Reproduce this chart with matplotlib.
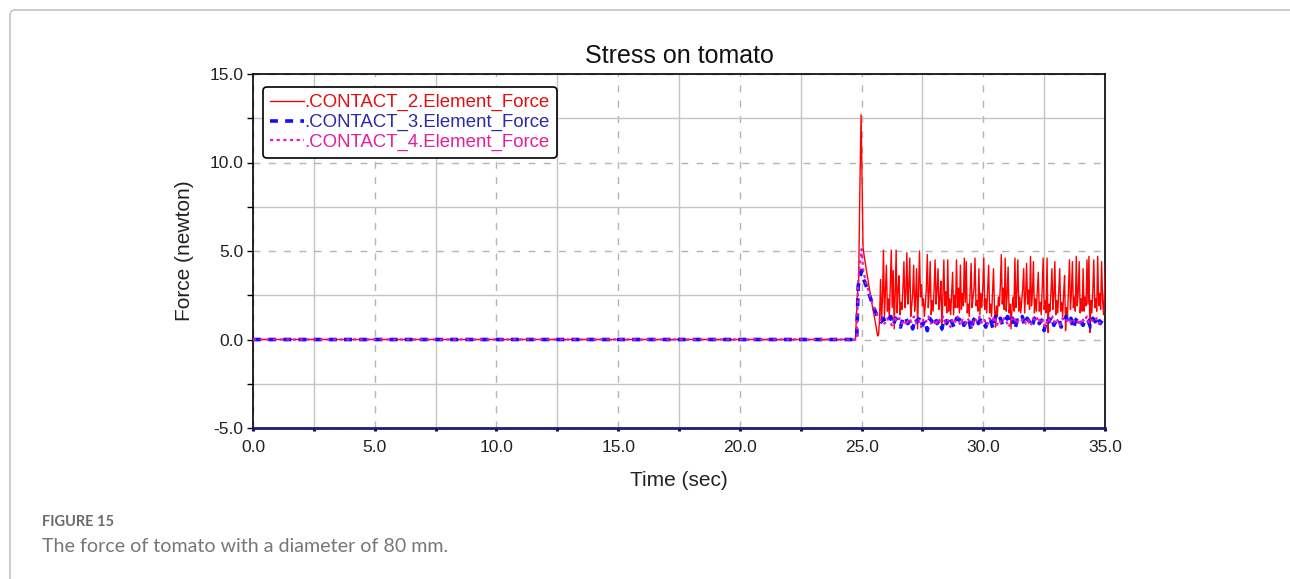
import numpy as np
import matplotlib
matplotlib.use('Agg')
import matplotlib.pyplot as plt
from matplotlib.patches import FancyBboxPatch
from matplotlib.transforms import IdentityTransform
from matplotlib.ticker import MultipleLocator, FormatStrFormatter

plt.rcParams['font.family'] = ['Liberation Sans', 'DejaVu Sans']

# ---------------- data ----------------
# CONTACT_2 (red, solid): contact onset + peak
red_pre_t = [0.0, 24.75, 24.82, 24.88, 24.93, 24.98, 25.02, 25.06, 25.12, 25.25, 25.40, 25.55, 25.66]
red_pre_f = [0.0, 0.0, 2.4, 3.3, 8.5, 12.7, 9.0, 5.2, 4.6, 3.5, 2.2, 1.1, 0.2]
# then sampled every 0.04 s from 25.70 s
red_t0, red_dt = 25.70, 0.04
red_post = [0.3, 1.2, 3.4, 0.9, 2.4, 5.05, 1.3, 2.7, 4.2, 1.6,
            2.3, 1.2, 3.1, 5.05, 1.8, 3.9, 0.6, 2.5, 5.05, 1.5,
            2.8, 3.6, 1.4, 2.1, 1.7, 2.9, 4.4, 1.8, 2.6, 4.9,
            2.0, 3.0, 4.6, 1.3, 1.9, 2.6, 4.2, 1.6, 2.4, 4.0,
            0.6, 2.8, 5.0, 2.4, 3.1, 1.9, 2.3, 1.3, 2.0, 2.9,
            4.8, 1.8, 2.7, 4.4, 1.4, 2.2, 1.6, 2.9, 4.5, 2.0,
            2.8, 4.0, 1.7, 2.3, 3.3, 0.5, 2.4, 4.5, 1.9, 2.7,
            1.5, 4.5, 1.6, 2.3, 1.4, 2.6, 3.8, 1.4, 2.5, 1.8,
            4.5, 1.8, 2.9, 1.5, 4.2, 1.7, 2.6, 1.9, 4.6, 2.1,
            4.4, 1.5, 2.0, 1.3, 2.7, 4.3, 1.8, 2.4, 2.9, 4.6,
            1.9, 2.2, 1.6, 4.0, 1.4, 2.6, 1.8, 3.0, 4.6, 1.7,
            2.3, 1.5, 2.8, 4.2, 1.5, 2.0, 1.3, 2.6, 4.0, 1.8,
            0.7, 1.9, 1.3, 2.4, 1.9, 3.0, 4.8, 2.0, 2.9, 1.7,
            4.6, 1.6, 2.5, 4.1, 1.5, 2.0, 0.6, 1.8, 2.4, 1.6,
            4.6, 1.8, 2.7, 4.5, 1.6, 2.4, 1.5, 2.2, 2.9, 4.0,
            1.5, 2.6, 4.3, 2.0, 2.8, 1.7, 4.7, 1.9, 2.6, 4.4,
            1.5, 2.3, 1.6, 2.8, 3.8, 1.6, 2.1, 1.4, 2.9, 4.6,
            1.7, 2.2, 1.5, 4.6, 0.4, 2.0, 1.6, 2.7, 4.0, 1.7,
            2.5, 4.4, 1.4, 2.2, 1.5, 2.8, 4.0, 1.6, 2.1, 1.3,
            2.6, 3.6, 0.5, 1.8, 1.3, 2.9, 4.5, 1.7, 2.6, 4.4,
            1.8, 2.4, 1.6, 4.7, 1.9, 2.7, 4.4, 1.5, 2.3, 1.6,
            4.0, 1.6, 2.4, 1.9, 4.5, 2.0, 4.7, 0.4, 2.2, 1.5,
            2.8, 4.5, 1.8, 2.3, 1.6, 4.7, 1.9, 2.6, 1.7, 4.4,
            2.2, 1.4, 2.8, 4.2]

# CONTACT_3 (blue, dashed)
blue_pre_t = [0.0, 24.80, 24.86, 24.92, 25.00, 25.08, 25.20, 25.35, 25.50, 25.62, 25.72]
blue_pre_f = [0.0, 0.0, 3.0, 3.5, 3.9, 3.4, 3.0, 2.4, 1.8, 1.4, 1.2]
blue_t0, blue_dt = 25.80, 0.1
blue_post = [1.0, 1.2, 0.9, 1.1, 1.3, 0.8, 1.2, 1.0, 0.7, 1.2,
             1.3, 0.9, 1.1, 0.6, 1.2, 1.0, 1.3, 0.8, 1.1, 0.5,
             1.2, 1.0, 1.3, 0.9, 1.1, 0.6, 1.2, 0.9, 1.3, 1.0,
             0.7, 1.2, 1.1, 1.3, 0.8, 1.0, 1.2, 0.5, 1.1, 1.3,
             0.9, 1.2, 1.0, 0.7, 1.2, 1.1, 0.6, 1.3, 1.0, 1.2,
             0.8, 1.1, 1.3, 0.9, 1.2, 0.6, 1.1, 1.0, 1.3, 0.8,
             1.2, 1.0, 0.7, 1.2, 1.3, 0.9, 1.1, 0.5, 1.2, 1.0,
             1.3, 0.8, 1.1, 1.2, 0.7, 1.0, 1.3, 0.9, 1.2, 0.6,
             1.1, 1.3, 1.0, 0.8, 1.2, 1.1, 0.7, 1.2, 1.0, 1.3,
             0.9, 1.1, 1.0]

# CONTACT_4 (magenta, dotted)
mag_pre_t = [0.0, 24.80, 24.86, 24.92, 25.00, 25.06, 25.15, 25.30, 25.45, 25.60, 25.75]
mag_pre_f = [0.0, 0.0, 3.2, 4.2, 5.1, 4.0, 3.4, 2.7, 2.0, 1.5, 1.1]
mag_t0, mag_dt = 25.85, 0.1
mag_post = [1.1, 0.9, 1.2, 1.0, 0.8, 1.3, 1.0, 1.2, 0.9, 1.1,
            0.8, 1.2, 1.0, 1.3, 0.9, 1.1, 0.7, 1.2, 1.0, 1.3,
            0.9, 1.1, 0.8, 1.2, 1.0, 1.3, 0.9, 1.1, 0.7, 1.2,
            1.0, 1.3, 0.8, 1.1, 0.9, 1.2, 1.0, 0.7, 1.2, 1.0,
            1.3, 0.9, 1.1, 0.8, 1.2, 1.0, 1.3, 0.8, 1.1, 0.9,
            1.2, 1.0, 0.7, 1.1, 1.3, 0.9, 1.1, 1.0, 1.2, 0.9,
            1.1, 0.8, 1.2, 1.0, 1.3, 0.9, 1.1, 0.7, 1.2, 1.0,
            1.3, 0.9, 1.1, 0.8, 1.2, 1.0, 1.1, 0.9, 1.2, 1.0,
            1.1, 0.8, 1.2, 1.0, 1.3, 0.9, 1.1, 1.0, 1.2, 0.9,
            1.0, 1.1]

labels = ['.CONTACT_2.Element_Force', '.CONTACT_3.Element_Force', '.CONTACT_4.Element_Force']


def join(pre_t, pre_f, t0, dt, post):
    t = np.concatenate([pre_t, t0 + dt * np.arange(len(post))])
    f = np.concatenate([pre_f, post])
    return t, f


red_t, red_f = join(red_pre_t, red_pre_f, red_t0, red_dt, red_post)
blue_t, blue_f = join(blue_pre_t, blue_pre_f, blue_t0, blue_dt, blue_post)
mag_t, mag_f = join(mag_pre_t, mag_pre_f, mag_t0, mag_dt, mag_post)

# ---------------- figure ----------------
fig = plt.figure(figsize=(12.9, 5.79), dpi=100)

# outer card border (pixel coords)
card = FancyBboxPatch((10, -60), 1340, 629, boxstyle='round,pad=0,rounding_size=5',
                      transform=IdentityTransform(), facecolor='none', edgecolor='#c4c4c4', lw=1.2)
fig.add_artist(card)

ax = fig.add_axes([253/1290, 1 - 428/579, 852/1290, 354/579])

ax.plot(red_t, red_f, color='#ff0000', lw=1.0, label=labels[0], zorder=3)
ax.plot(blue_t, blue_f, color='#1010ff', lw=2.6, dashes=(2.2, 2.0), label=labels[1], zorder=4)
ax.plot(mag_t, mag_f, color='#ee10c8', lw=1.6, dashes=(1.4, 1.6), label=labels[2], zorder=5)

ax.set_xlim(0, 35)
ax.set_ylim(-5, 15)
ax.xaxis.set_major_locator(MultipleLocator(5))
ax.xaxis.set_minor_locator(MultipleLocator(2.5))
ax.yaxis.set_major_locator(MultipleLocator(5))
ax.yaxis.set_minor_locator(MultipleLocator(2.5))
ax.xaxis.set_major_formatter(FormatStrFormatter('%.1f'))
ax.yaxis.set_major_formatter(FormatStrFormatter('%.1f'))

ax.grid(which='major', color='#b4b4b4', lw=1.0, dashes=(5, 6))
ax.grid(which='minor', color='#c4c4c4', lw=1.0, ls='-')
ax.set_axisbelow(True)

for s in ['top', 'right', 'left']:
    ax.spines[s].set_color('black')
    ax.spines[s].set_linewidth(1.2)
ax.spines['bottom'].set_color('#1c1c7a')
ax.spines['bottom'].set_linewidth(2.0)

ax.tick_params(axis='y', which='both', direction='out', length=4, width=1, color='black',
               labelsize=12.5, labelcolor='#222222', pad=3)
ax.tick_params(axis='x', which='both', direction='out', length=2.5, width=2.2, color='#111144',
               labelsize=12.5, labelcolor='#222222', pad=6)

ax.set_title('Stress on tomato', fontsize=18, color='#111111', pad=8)
ax.set_xlabel('Time (sec)', fontsize=15, color='#222222', labelpad=12)
ax.set_ylabel('Force (newton)', fontsize=15, color='#222222', labelpad=11)

leg = ax.legend(loc='upper left', bbox_to_anchor=(0.012, 0.963), borderaxespad=0,
                fontsize=13.4, handlelength=1.8, handletextpad=0.05, labelspacing=0.14,
                borderpad=0.38, fancybox=True, framealpha=1, edgecolor='black')
leg.get_frame().set_linewidth(1.2)
text_cols = ['#e01010', '#2a2aa8', '#e0209a']
for txt, c in zip(leg.get_texts(), text_cols):
    txt.set_color(c)

# caption
fig.text(42/1290, 1 - 522/579, 'FIGURE 15', family=['Lato', 'DejaVu Sans'], fontweight='bold',
         fontsize=10.5, color='#6b6b6b', va='center', ha='left')
fig.text(42/1290, 1 - 547/579, 'The force of tomato with a diameter of 80 mm.',
         family=['Lato', 'DejaVu Sans'], fontsize=14.1, color='#777777', va='center', ha='left')

fig.savefig('out.png', dpi=100)
